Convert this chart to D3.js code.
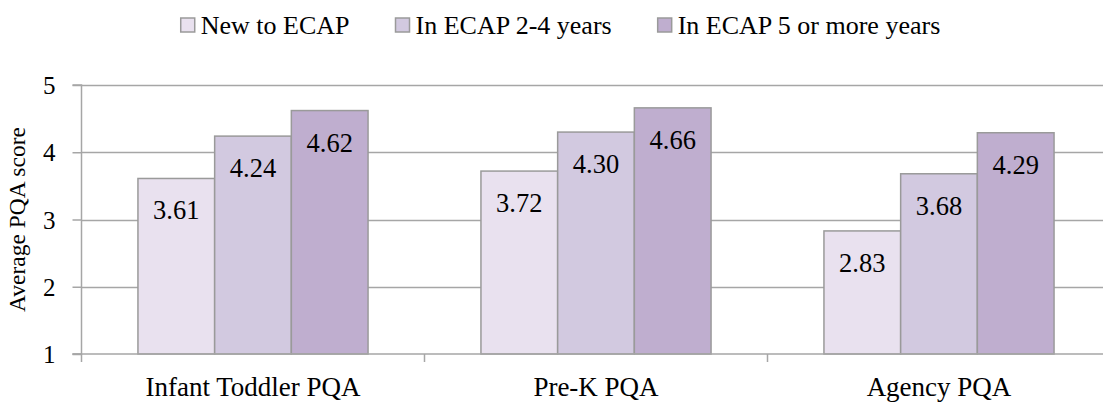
<!DOCTYPE html>
<html>
<head>
<meta charset="utf-8">
<script src="https://cdn.jsdelivr.net/npm/d3@7"></script>
<style>
  html, body { margin: 0; padding: 0; background: #ffffff; }
</style>
</head>
<body>
<svg id="chart" width="1103" height="403"></svg>
<script>
// PQA scores by program and time in ECAP
const categories = ["Infant Toddler PQA", "Pre-K PQA", "Agency PQA"];
const seriesNames = ["New to ECAP", "In ECAP 2-4 years", "In ECAP 5 or more years"];
const newToEcap = [3.61, 3.72, 2.83];
const ecap2to4 = [4.24, 4.30, 3.68];
const ecap5plus = [4.62, 4.66, 4.29];
const yTicks = [1, 2, 3, 4, 5];
const yTitle = "Average PQA score";

const seriesValues = [newToEcap, ecap2to4, ecap5plus];
const colors = ["#e9e1ef", "#d2c9e0", "#bfaecf"];
const stroke = "#9a9a9a";
const gridColor = "#a6a6a6";
const FONT = "'Liberation Serif'";

const svg = d3.select("#chart");
const W = 1103;
const plot = { left: 81.5, right: 1110.5, top: 85, bottom: 354 };

const x0 = d3.scaleBand().domain(categories).range([plot.left, plot.right]).paddingInner(0).paddingOuter(0);
const x1 = d3.scaleBand().domain(d3.range(seriesNames.length)).range([0, x0.bandwidth()])
  .paddingInner(0).paddingOuter(0.736);
const y = d3.scaleLinear().domain([1, 5]).range([plot.bottom, plot.top]);

// horizontal gridlines
svg.append("g").selectAll("line").data(yTicks.slice(1)).join("line")
  .attr("x1", plot.left).attr("x2", W)
  .attr("y1", d => Math.round(y(d)) + 0.5).attr("y2", d => Math.round(y(d)) + 0.5)
  .attr("stroke", gridColor).attr("stroke-width", 1.5);

// y axis
const yAxis = d3.axisLeft(y).tickValues(yTicks).tickSize(9).tickPadding(17).tickFormat(d3.format("d"));
const gy = svg.append("g").attr("transform", `translate(${plot.left},0)`).call(yAxis)
  .attr("font-family", FONT).attr("font-size", 25);
gy.select(".domain").attr("stroke", gridColor).attr("stroke-width", 1.5).attr("d", `M-9,${y(1)}H0V${y(5)}H-9`);
gy.selectAll(".tick line").attr("stroke", gridColor).attr("stroke-width", 1.5);
gy.selectAll(".tick text").attr("fill", "#000").attr("dy", "0.34em");

// bars
const groups = svg.append("g").selectAll("g").data(categories).join("g")
  .attr("transform", d => `translate(${x0(d)},0)`);
groups.selectAll("rect").data((c, ci) => seriesValues.map((vals, si) => ({ si, v: vals[ci] }))).join("rect")
  .attr("x", d => x1(d.si)).attr("width", x1.bandwidth())
  .attr("y", d => y(d.v)).attr("height", d => y(1) - y(d.v))
  .attr("fill", d => colors[d.si]).attr("stroke", stroke).attr("stroke-width", 1.5);
groups.selectAll("text").data((c, ci) => seriesValues.map((vals, si) => ({ si, v: vals[ci] }))).join("text")
  .attr("x", d => x1(d.si) + x1.bandwidth() / 2).attr("y", d => y(d.v) + 41)
  .attr("text-anchor", "middle").attr("font-family", FONT).attr("font-size", 26.5).attr("fill", "#000")
  .text(d => d.v.toFixed(2));

// x axis
const gx = svg.append("g").attr("transform", `translate(0,${plot.bottom})`);
gx.append("line").attr("x1", plot.left - 9).attr("x2", W).attr("y1", 0).attr("y2", 0)
  .attr("stroke", gridColor).attr("stroke-width", 1.5);
gx.selectAll("line.sep").data(categories.map(c => x0(c)).concat([plot.right])).join("line")
  .attr("class", "sep").attr("x1", d => d).attr("x2", d => d).attr("y1", 0).attr("y2", 8)
  .attr("stroke", gridColor).attr("stroke-width", 1.5);
gx.selectAll("text.cat").data(categories).join("text").attr("class", "cat")
  .attr("x", d => x0(d) + x0.bandwidth() / 2).attr("y", 42)
  .attr("text-anchor", "middle").attr("font-family", FONT).attr("font-size", 27).attr("fill", "#000").text(d => d);

// y axis title
svg.append("text").attr("transform", `translate(25,${y(3)}) rotate(-90)`)
  .attr("text-anchor", "middle").attr("font-family", FONT).attr("font-size", 23.5).attr("fill", "#000").text(yTitle);

// legend
const legend = svg.append("g");
const items = legend.selectAll("g").data(seriesNames).join("g");
items.append("rect").attr("width", 14).attr("height", 14).attr("y", 18)
  .attr("fill", (d, i) => colors[i]).attr("stroke", stroke).attr("stroke-width", 1.5);
items.append("text").attr("x", 20).attr("y", 34).attr("font-family", FONT).attr("font-size", 26)
  .attr("fill", "#000").text(d => d);
let widths = [];
items.each(function () { widths.push(this.getBBox().width); });
const gap = 46;
const total = d3.sum(widths) + gap * (widths.length - 1);
let cx = 560.5 - total / 2;
items.attr("transform", (d, i) => { const t = `translate(${cx},0)`; cx += widths[i] + gap; return t; });
</script>
</body>
</html>
